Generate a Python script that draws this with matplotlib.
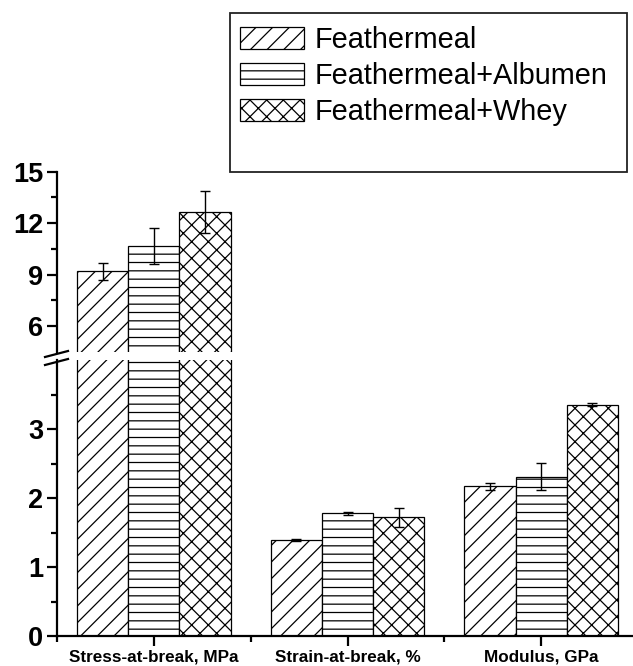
import matplotlib
matplotlib.use("Agg")
import matplotlib.pyplot as plt
import numpy as np
from matplotlib.patches import Patch, Rectangle
from matplotlib.lines import Line2D
from matplotlib.ticker import FixedLocator

plt.rcParams['font.family'] = ['Liberation Sans', 'DejaVu Sans']
plt.rcParams['hatch.linewidth'] = 0.9

categories = ["Stress-at-break, MPa", "Strain-at-break, %", "Modulus, GPa"]
series = ["Feathermeal", "Feathermeal+Albumen", "Feathermeal+Whey"]
feathermeal = [9.2, 1.39, 2.17]
albumen = [10.68, 1.78, 2.31]
whey = [12.65, 1.72, 3.35]
err_feathermeal = [0.48, 0.01, 0.05]
err_albumen = [1.05, 0.02, 0.20]
err_whey = [1.20, 0.14, 0.02]
hatches = ['//', '--', 'xx']

values = [feathermeal, albumen, whey]
errors = [err_feathermeal, err_albumen, err_whey]

W, H = 633, 666
fig = plt.figure(figsize=(W / 100, H / 100), dpi=100)

left = 57 / W
right_px = 638
width = (right_px - 57) / W
ax_lo = fig.add_axes([left, (H - 636) / H, width, (636 - 360) / H])
ax_hi = fig.add_axes([left, (H - 352) / H, width, (352 - 171.7) / H])

x = np.arange(1, len(categories) + 1)
bw = 0.265
for ax in (ax_lo, ax_hi):
    for i, (vals, errs, h) in enumerate(zip(values, errors, hatches)):
        pos = x + (i - 1) * bw
        ax.bar(pos, vals, width=bw, facecolor='white', edgecolor='black',
               linewidth=0.9, hatch=h, zorder=2)
        ax.errorbar(pos, vals, yerr=errs, fmt='none', ecolor='black',
                    elinewidth=1.0, capsize=3.5, capthick=1.0, zorder=3)
    ax.set_xlim(0.5, 3.5)
    ax.spines['top'].set_visible(False)
    ax.spines['right'].set_visible(False)
    ax.spines['left'].set_linewidth(1.6)
    ax.tick_params(axis='y', which='major', direction='out', length=7, width=1.6,
                   labelsize=19.5, pad=3)
    ax.tick_params(axis='y', which='minor', direction='out', length=4.5, width=1.6)
    ax.patch.set_alpha(0)

ax_lo.set_ylim(0, 4.0)
ax_lo.yaxis.set_major_locator(FixedLocator([0, 1, 2, 3]))
ax_lo.yaxis.set_minor_locator(FixedLocator([0.5, 1.5, 2.5, 3.5]))
ax_lo.spines['bottom'].set_linewidth(1.6)
ax_lo.set_xticks(x)
ax_lo.set_xticklabels(categories, fontweight='bold', fontsize=12.3)
ax_lo.xaxis.set_minor_locator(FixedLocator([0.5, 1.5, 2.5, 3.5]))
ax_lo.tick_params(axis='x', which='major', direction='out', length=7, width=1.6, pad=3)
ax_lo.tick_params(axis='x', which='minor', direction='out', length=4.5, width=1.6)

ax_hi.set_ylim(4.5, 15)
ax_hi.yaxis.set_major_locator(FixedLocator([6, 9, 12, 15]))
ax_hi.yaxis.set_minor_locator(FixedLocator([7.5, 10.5, 13.5]))
ax_hi.spines['bottom'].set_visible(False)
ax_hi.set_xticks([])
ax_hi.tick_params(axis='x', which='both', length=0)
for ax in (ax_lo, ax_hi):
    for lab in ax.get_yticklabels():
        lab.set_fontweight('bold')

# break marks on the y axis
for y0 in (357, 365):
    fig.add_artist(Line2D([45 / W, 68 / W], [1 - y0 / H, 1 - (y0 - 6) / H],
                          transform=fig.transFigure, color='black', lw=1.6))

# legend box
fig.add_artist(Rectangle((230 / W, 1 - 172.3 / H), (627 - 230) / W, (172.3 - 13.3) / H,
                         transform=fig.transFigure, facecolor='none',
                         edgecolor='#222222', lw=1.3))
handles = [Patch(facecolor='white', edgecolor='black', hatch=h, linewidth=0.9)
           for h in hatches]
fig.legend(handles, series, loc='upper left', bbox_to_anchor=(240 / W, 1 - 26 / H),
           frameon=False, fontsize=20.8, handlelength=2.2, handleheight=0.82,
           handletextpad=0.38, labelspacing=0.28, borderpad=0, borderaxespad=0)

fig.savefig("out.png", dpi=100)
